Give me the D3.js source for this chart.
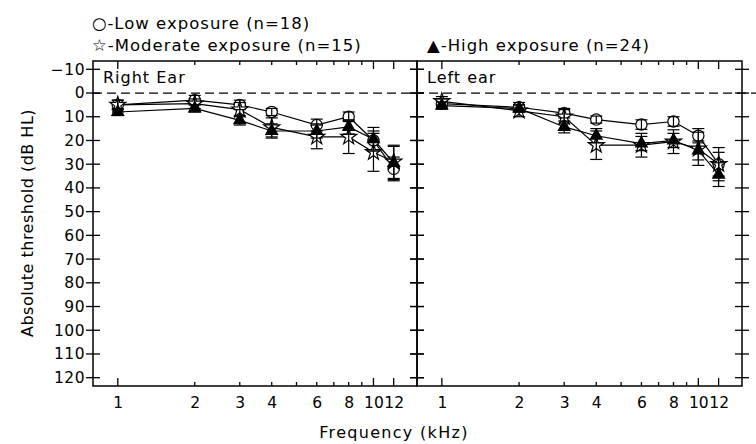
<!DOCTYPE html>
<html>
<head>
<meta charset="utf-8">
<script src="https://cdn.jsdelivr.net/npm/d3@7"></script>
<style>
  body { margin: 0; background: #fff; }
  text { font-family: "DejaVu Sans", sans-serif; fill: #000; }
</style>
</head>
<body>
<div id="container"></div>
<script>
// frequencies (kHz)
const freqs = [1, 2, 3, 4, 6, 8, 10, 12];

// right ear means / sd (dB HL)
const rightLow = [5, 3, 5, 8, 13.5, 10, 20, 32];
const rightLowSd = [2, 2, 2, 1.5, 2.5, 2, 4, 5];
const rightMod = [5, 4.5, 7, 14.5, 18.5, 18.5, 25, 29];
const rightModSd = [2, 2, 3, 4, 5, 7, 8, 7];
const rightHigh = [8, 6.5, 11.5, 16, 16, 14.3, 19.5, 29.5];
const rightHighSd = [1.5, 1.5, 2, 3, 3, 3, 5, 7];

// left ear
const leftLow = [4.5, 6, 8.5, 11.2, 13.3, 12, 18, 30];
const leftLowSd = [2, 2, 2, 1.5, 2, 2, 3, 5];
const leftMod = [3.5, 7.5, 10, 22, 22, 20.5, 23.5, 30];
const leftModSd = [2, 2.5, 3, 6, 5, 5, 7, 7];
const leftHigh = [5.3, 6.5, 14.3, 18, 21.3, 20, 24.2, 34.4];
const leftHighSd = [1.5, 1.5, 2.5, 3, 3, 3, 4, 5];

const yTicks = d3.range(-10, 121, 10);
const xLabels = [1, 2, 3, 4, 6, 8, 10, 12];
const xMajor = [1, 10, 12];
const xSmall = [2, 3, 4, 5, 6, 7, 8, 9];

let w = 756;
let h = 444;
let yTop = 61, yBottom = 386;

let viz = d3.select("#container")
  .append("svg")
  .attr("width", w)
  .attr("height", h);

let y = d3.scaleLinear().domain([-13.5, 123.5]).range([yTop, yBottom]);

let panels = [
  { name: "Right Ear", x0: 93, x1: 417,
    groups: [
      { sym: "circle", v: rightLow, sd: rightLowSd },
      { sym: "star", v: rightMod, sd: rightModSd },
      { sym: "tri", v: rightHigh, sd: rightHighSd }
    ] },
  { name: "Left ear", x0: 417, x1: 742,
    groups: [
      { sym: "circle", v: leftLow, sd: leftLowSd },
      { sym: "star", v: leftMod, sd: leftModSd },
      { sym: "tri", v: leftHigh, sd: leftHighSd }
    ] }
];

// zero reference line
viz.append("line")
  .attr("x1", 93).attr("x2", w)
  .attr("y1", y(0)).attr("y2", y(0))
  .attr("stroke", "#000")
  .attr("stroke-width", 1.2)
  .attr("stroke-dasharray", "9,5");

panels.forEach(function(p, pi) {
  let x = d3.scaleLog().domain([0.8, 14.8]).range([p.x0, p.x1]);
  let g = viz.append("g");

  // frame
  g.append("rect")
    .attr("x", p.x0).attr("y", yTop)
    .attr("width", p.x1 - p.x0).attr("height", yBottom - yTop)
    .attr("fill", "none")
    .attr("stroke", "#000")
    .attr("stroke-width", 1.5);

  // y ticks crossing both edges
  [p.x0, p.x1].forEach(function(ex) {
    g.selectAll(null).data(yTicks).enter()
      .append("line")
      .attr("x1", ex - 7).attr("x2", ex + 7)
      .attr("y1", d => y(d)).attr("y2", d => y(d))
      .attr("stroke", "#000").attr("stroke-width", 1.3);
  });

  // x ticks top and bottom, inward
  let xt = xMajor.map(d => ({ f: d, len: 8 })).concat(xSmall.map(d => ({ f: d, len: 4 })));
  g.selectAll(null).data(xt).enter()
    .append("line")
    .attr("x1", d => x(d.f)).attr("x2", d => x(d.f))
    .attr("y1", yBottom).attr("y2", d => yBottom - d.len)
    .attr("stroke", "#000").attr("stroke-width", 1.3);
  g.selectAll(null).data(xt).enter()
    .append("line")
    .attr("x1", d => x(d.f)).attr("x2", d => x(d.f))
    .attr("y1", yTop).attr("y2", d => yTop + d.len)
    .attr("stroke", "#000").attr("stroke-width", 1.3);

  // x labels
  let xAxis = d3.axisBottom(x).tickValues(xLabels).tickFormat(d3.format("d")).tickSize(0).tickPadding(11);
  g.append("g")
    .attr("transform", "translate(0," + yBottom + ")")
    .call(xAxis)
    .call(s => s.select(".domain").remove())
    .selectAll("text")
    .style("font-family", "DejaVu Sans, sans-serif")
    .style("font-size", "15.5px");

  if (pi === 0) {
    let yAxis = d3.axisLeft(y).tickValues(yTicks).tickSize(0).tickPadding(8);
    g.append("g")
      .attr("transform", "translate(" + p.x0 + ",0)")
      .call(yAxis)
      .call(s => s.select(".domain").remove())
      .selectAll("text")
      .style("font-family", "DejaVu Sans, sans-serif")
      .style("font-size", "15.5px")
      .style("letter-spacing", "0.5px");
  }

  g.append("text")
    .attr("x", p.x0 + 10).attr("y", 83)
    .style("font-size", "16px")
    .style("letter-spacing", "1px")
    .text(p.name);

  let line = d3.line().x(d => x(d[0])).y(d => y(d[1]));

  p.groups.forEach(function(gr) {
    g.append("path")
      .attr("d", line(freqs.map((f, i) => [f, gr.v[i]])))
      .attr("fill", "none")
      .attr("stroke", "#000")
      .attr("stroke-width", 1.2);
  });

  p.groups.forEach(function(gr) {
    let shape, size, fill;
    if (gr.sym === "circle") { shape = d3.symbolCircle; size = 100; fill = "#fff"; }
    else if (gr.sym === "star") { shape = d3.symbolStar; size = 80; fill = "#fff"; }
    else { shape = d3.symbolTriangle; size = 60; fill = "#000"; }
    g.selectAll(null).data(freqs.map((f, i) => [f, gr.v[i]])).enter()
      .append("path")
      .attr("transform", d => "translate(" + x(d[0]) + "," + y(d[1]) + ")")
      .attr("d", d3.symbol().type(shape).size(size))
      .attr("fill", fill)
      .attr("stroke", "#000")
      .attr("stroke-width", 1.2);
  });

  p.groups.forEach(function(gr) {
    let eb = freqs.map((f, i) => ({ f: f, lo: gr.v[i] - gr.sd[i], hi: gr.v[i] + gr.sd[i] }));
    let sel = g.selectAll(null).data(eb).enter().append("g");
    sel.append("line")
      .attr("x1", d => x(d.f)).attr("x2", d => x(d.f))
      .attr("y1", d => y(d.lo)).attr("y2", d => y(d.hi))
      .attr("stroke", "#000").attr("stroke-width", 1.2);
    ["lo", "hi"].forEach(function(k) {
      sel.append("line")
        .attr("x1", d => x(d.f) - 6).attr("x2", d => x(d.f) + 6)
        .attr("y1", d => y(d[k])).attr("y2", d => y(d[k]))
        .attr("stroke", "#000").attr("stroke-width", 1.2);
    });
  });
});

// legend
function legendText(x, yy, s) {
  viz.append("text").attr("x", x).attr("y", yy)
    .style("font-size", "16.5px")
    .style("letter-spacing", "1px")
    .text(s);
}
legendText(92, 29, "○-Low exposure (n=18)");
legendText(92, 51, "☆-Moderate exposure (n=15)");
legendText(427, 51, "▲-High exposure (n=24)");

// axis titles
viz.append("text")
  .attr("transform", "translate(33,223) rotate(-90)")
  .attr("text-anchor", "middle")
  .style("font-size", "16px")
  .style("letter-spacing", "0.5px")
  .text("Absolute threshold (dB HL)");

viz.append("text")
  .attr("x", 394).attr("y", 438)
  .attr("text-anchor", "middle")
  .style("font-size", "16px")
  .style("letter-spacing", "1.3px")
  .text("Frequency (kHz)");
</script>
</body>
</html>
